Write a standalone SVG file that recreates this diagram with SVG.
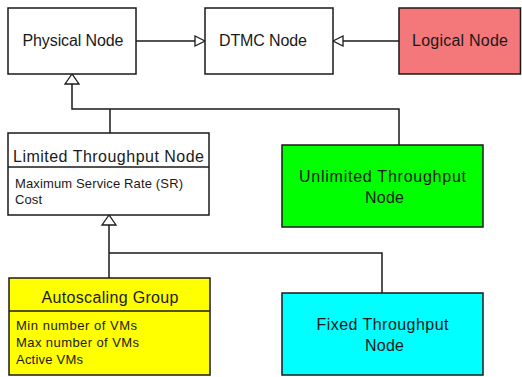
<svg xmlns="http://www.w3.org/2000/svg" width="522" height="377" viewBox="0 0 522 377">
<style>
.box{stroke:#1a1a1a;stroke-width:1.5}
.ln{fill:none;stroke:#1a1a1a;stroke-width:1.5}
.tri{fill:#fff;stroke:#1a1a1a;stroke-width:1.3}
text{font-family:"Liberation Sans",Arial,sans-serif;fill:#1a1a1a}
.t{font-size:16px;text-anchor:middle}
.a{font-size:13px}
</style>
<rect width="522" height="377" fill="#fff"/>
<g id="connectors">
<path class="ln" d="M136,41H195"/>
<polygon class="tri" points="205,41 195,36 195,46"/>
<path class="ln" d="M399,41H343"/>
<polygon class="tri" points="333,41 343,36 343,46"/>
<path class="ln" d="M72,84V109H399V145M110,109V133"/>
<polygon class="tri" points="72,74 65,84 79,84"/>
<path class="ln" d="M109,225V253H382V293M109,253V278"/>
<polygon class="tri" points="109,215 102,225 116,225"/>
</g>
<g id="physical">
<rect class="box" x="8" y="8" width="128" height="66" fill="#fff"/>
<text class="t" x="73" y="46" textLength="101">Physical Node</text>
</g>
<g id="dtmc">
<rect class="box" x="205" y="8" width="128" height="66" fill="#fff"/>
<text class="t" x="263" y="46" textLength="88">DTMC Node</text>
</g>
<g id="logical">
<rect class="box" x="399" y="8" width="121.5" height="66" fill="#f4777a"/>
<text class="t" x="460" y="46" textLength="96">Logical Node</text>
</g>
<g id="limited">
<rect class="box" x="8" y="133" width="201" height="82" fill="#fff"/>
<path class="ln" d="M8,167H209"/>
<text class="t" x="108.5" y="162" textLength="191">Limited Throughput Node</text>
<text class="a" x="15" y="188" textLength="168">Maximum Service Rate (SR)</text>
<text class="a" x="15" y="204" textLength="27">Cost</text>
</g>
<g id="unlimited">
<rect class="box" x="282" y="145" width="201" height="82" fill="#00ff00"/>
<text class="t" x="382.5" y="182" textLength="167">Unlimited Throughput</text>
<text class="t" x="384.5" y="203" textLength="39">Node</text>
</g>
<g id="autoscaling">
<rect class="box" x="9" y="278" width="201" height="97" fill="#ffff00"/>
<path class="ln" d="M9,311H210"/>
<text class="t" x="110" y="303" textLength="137">Autoscaling Group</text>
<text class="a" x="16" y="330" textLength="121">Min number of VMs</text>
<text class="a" x="16" y="347" textLength="123">Max number of VMs</text>
<text class="a" x="16" y="364" textLength="67">Active VMs</text>
</g>
<g id="fixed">
<rect class="box" x="282" y="293" width="201" height="82" fill="#00ffff"/>
<text class="t" x="382.5" y="330" textLength="132">Fixed Throughput</text>
<text class="t" x="384.5" y="351" textLength="39">Node</text>
</g>
</svg>
